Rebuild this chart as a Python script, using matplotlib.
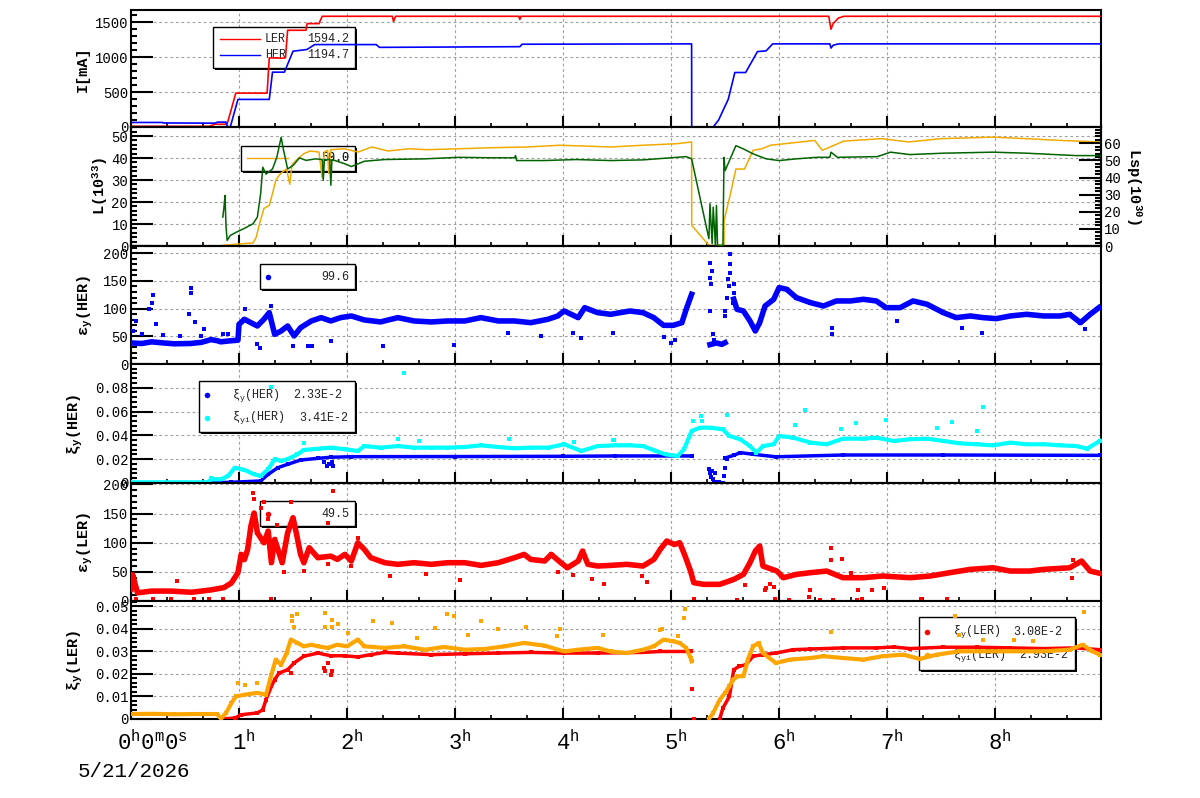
import numpy as np
import matplotlib
matplotlib.use("Agg")
import matplotlib.pyplot as plt
from matplotlib.patches import Rectangle
from matplotlib.lines import Line2D
from matplotlib.transforms import Affine2D, blended_transform_factory, offset_copy
from matplotlib.ticker import MultipleLocator, FuncFormatter

plt.rcParams["font.family"] = ["Liberation Mono", "DejaVu Sans Mono"]
plt.rcParams["mathtext.default"] = "regular"

nan = np.nan

# ---------- data (time in hours) ----------
hours = [0, 1, 2, 3, 4, 5, 6, 7, 8]
hour_labels = ["0$^{h}$0$^{m}$0$^{s}$", "1$^{h}$", "2$^{h}$", "3$^{h}$", "4$^{h}$",
               "5$^{h}$", "6$^{h}$", "7$^{h}$", "8$^{h}$"]
date_label = "5/21/2026"

# panel 1: beam currents [mA]
ler_current = [(0.0, 10), (0.72, 10), (0.78, 40), (0.89, 40), (0.97, 485), (1.26, 485),
               (1.28, 990), (1.40, 985), (1.43, 990), (1.45, 1385), (1.62, 1385), (1.63, 1480),
               (1.74, 1480), (1.77, 1585), (2.42, 1585), (2.43, 1510), (2.45, 1585), (3.59, 1585),
               (3.60, 1540), (3.61, 1585), (6.46, 1585), (6.48, 1400), (6.50, 1480), (6.55, 1560),
               (6.60, 1585), (8.98, 1585)]
her_current = [(0.0, 65), (0.29, 65), (0.30, 58), (0.78, 55), (0.80, 70), (0.88, 70), (0.89, 5),
               (0.92, 5), (0.99, 395), (1.28, 395), (1.31, 785), (1.42, 785), (1.50, 1085),
               (1.63, 1110), (1.70, 1180), (2.27, 1180), (2.30, 1140), (3.60, 1150), (3.62, 1185),
               (5.19, 1190), (5.191, 0), (5.39, 0), (5.44, 100), (5.53, 400), (5.59, 780),
               (5.69, 780), (5.80, 1080), (5.88, 1090), (5.94, 1190), (6.47, 1190), (6.48, 1130),
               (6.50, 1170), (6.55, 1190), (8.98, 1190)]

# panel 2: luminosity L (left) and specific luminosity Lsp (right)
lum = [(0.85, 0.3), (0.97, 0.8), (1.13, 1.4), (1.16, 4.1), (1.19, 10.2), (1.23, 17.0), (1.28, 18.5),
       (1.31, 23.8), (1.34, 29.8), (1.37, 32.1), (1.40, 33.6), (1.44, 35.0), (1.47, 28.0),
       (1.49, 37.0), (1.53, 39.0), (1.60, 42.0), (1.66, 43.2), (1.74, 42.7), (1.77, 31.0),
       (1.79, 42.8), (1.82, 43.5), (1.83, 33.0), (1.85, 43.8), (1.98, 44.2), (2.10, 42.7),
       (2.23, 45.0), (2.38, 43.2), (2.57, 44.2), (2.73, 43.8), (3.04, 44.2), (3.35, 44.7),
       (3.66, 45.0), (3.97, 45.8), (4.28, 45.3), (4.44, 45.0), (4.74, 45.8), (5.05, 46.5),
       (5.19, 47.3), (5.191, 9.4), (5.35, 0.3), (5.49, 0.3), (5.491, 11.7), (5.55, 23.8),
       (5.60, 35.0), (5.68, 35.0), (5.76, 43.5), (5.84, 44.2), (5.92, 45.8), (6.20, 47.3),
       (6.33, 48.0), (6.40, 43.5), (6.60, 47.7), (6.95, 48.8), (7.20, 47.3), (7.50, 48.8),
       (7.98, 49.5), (8.29, 48.8), (8.60, 48.0), (8.97, 47.3)]
lum_sp = [(0.85, 16.9), (0.86, 22.0), (0.87, 29.5), (0.88, 11.0), (0.89, 3.3), (0.92, 6.2),
          (0.98, 8.2), (1.04, 10.0), (1.13, 13.0), (1.17, 16.9), (1.20, 30.5), (1.22, 46.0),
          (1.25, 42.0), (1.31, 45.0), (1.35, 51.8), (1.39, 63.5), (1.41, 56.7), (1.45, 45.0),
          (1.50, 47.0), (1.56, 51.5), (1.62, 50.0), (1.71, 50.9), (1.77, 50.5), (1.78, 38.4),
          (1.79, 50.5), (1.84, 50.5), (1.85, 35.5), (1.86, 50.5), (1.98, 48.0), (2.04, 46.4),
          (2.16, 49.5), (2.35, 50.5), (2.72, 50.9), (3.04, 51.8), (3.35, 51.5), (3.55, 51.5),
          (3.56, 52.8), (3.57, 49.9), (3.82, 49.9), (4.12, 50.5), (4.44, 49.9), (4.74, 50.3),
          (5.14, 52.2), (5.19, 50.9), (5.24, 36.3), (5.30, 18.8), (5.35, 4.3), (5.36, 24.7),
          (5.38, 1.4), (5.39, 22.7), (5.41, 0.4), (5.42, 23.7), (5.43, 0.4), (5.48, 0.4),
          (5.49, 51.8), (5.50, 44.0), (5.56, 52.8), (5.60, 58.6), (5.67, 56.7), (5.76, 53.8),
          (5.88, 50.9), (6.00, 49.9), (6.16, 50.9), (6.35, 51.8), (6.47, 51.8), (6.48, 54.8),
          (6.54, 51.8), (6.91, 52.2), (7.03, 54.8), (7.21, 53.4), (7.52, 54.2), (7.98, 54.8),
          (8.29, 54.2), (8.75, 52.8), (8.97, 52.8)]

# panel 3: vertical emittance HER
eps_her = [(0.0, 38), (0.10, 37), (0.19, 40), (0.30, 38), (0.40, 36.5), (0.55, 37), (0.65, 39),
           (0.74, 44), (0.80, 42), (0.83, 40), (0.90, 41.5), (0.99, 43), (1.00, 71.6), (1.05, 80.7),
           (1.11, 74.6), (1.17, 68.6), (1.23, 80.7), (1.28, 92.7), (1.33, 53.6), (1.39, 59.6),
           (1.45, 68.6), (1.51, 50.6), (1.57, 65.6), (1.67, 77.7), (1.76, 83.7), (1.85, 77.7),
           (1.94, 83.7), (2.04, 86.7), (2.16, 79.5), (2.31, 76), (2.47, 83.7), (2.62, 77.7),
           (2.78, 75.9), (2.93, 77.7), (3.09, 77.7), (3.24, 83.7), (3.40, 77.7), (3.55, 77.7),
           (3.70, 74.6), (3.86, 80.7), (3.95, 86.7), (4.01, 95.7), (4.14, 83.7), (4.20, 101.7),
           (4.32, 92.7), (4.44, 89.7), (4.62, 95.7), (4.74, 92.7), (4.84, 83.7), (4.93, 69.8),
           (5.02, 69.8), (5.10, 74.6), (5.14, 98.7), (5.19, 125.8), (5.25, nan), (5.36, 35),
           (5.42, 38), (5.47, 35.5), (5.50, 38.5), (5.52, nan), (5.58, 117), (5.61, 98.7),
           (5.67, 95.7), (5.73, 77.7), (5.78, 59.6), (5.82, 74.6), (5.87, 104.7), (5.95, 116.8),
           (6.00, 137.9), (6.07, 134.9), (6.16, 119.8), (6.29, 110.8), (6.41, 104.7),
           (6.53, 113.8), (6.66, 113.8), (6.78, 116.8), (6.90, 113.8), (6.99, 101.7),
           (7.12, 101.7), (7.24, 113.8), (7.37, 107.8), (7.52, 92.7), (7.64, 83.7), (7.77, 86.7),
           (7.89, 83.7), (8.01, 81.9), (8.14, 86.7), (8.29, 89.7), (8.45, 86.7), (8.60, 86.7),
           (8.69, 89.7), (8.79, 74.6), (8.88, 89.7), (8.96, 101.7)]
eps_her_out = [(0.05, 77.7), (0.19, 111), (0.20, 124), (0.17, 98.7), (0.23, 73), (0.56, 138),
               (0.56, 129), (0.54, 90), (0.59, 76), (0.68, 62.6), (1.06, 98.7), (1.30, 105),
               (1.17, 35.5), (1.19, 29.5), (1.50, 32.5), (1.64, 32.5), (1.68, 32.5), (1.85, 41.5),
               (2.33, 32.5), (2.99, 33.7), (3.49, 56.6), (3.80, 50.6), (4.17, 47.6), (4.09, 56.6),
               (4.46, 56.6), (4.93, 48.8), (5.00, 38.5), (5.04, 42.7), (6.49, 53.6), (6.49, 65.6),
               (7.09, 77.7), (7.69, 65.6), (7.88, 56.6), (8.83, 63.8), (5.36, 181.8),
               (5.38, 168), (5.36, 154.7), (5.37, 143.9), (5.36, 95.7), (5.39, 53.6), (5.40, 44),
               (5.50, 95.7), (5.50, 86.7), (5.53, 152.9), (5.54, 140.9), (5.55, 198), (5.55, 180),
               (5.55, 165), (5.58, 143.9), (5.58, 128.8), (5.52, 119.8), (5.57, 110),
               (0.02, 60), (0.10, 55), (0.30, 52), (0.45, 50), (0.65, 50), (0.85, 55), (0.90, 55)]

# panel 4: beam-beam parameter HER
xi_her = [(0.0, 0.0003), (0.77, 0.0003), (0.93, 0.0006), (1.20, 0.0017), (1.27, 0.0073),
          (1.36, 0.0129), (1.45, 0.0157), (1.57, 0.0193), (1.73, 0.0207), (1.85, 0.0216),
          (2.04, 0.0221), (3.00, 0.0222), (4.00, 0.0224), (4.48, 0.0227), (5.19, 0.0227),
          (5.25, nan), (5.50, 0.021), (5.58, 0.0232), (5.64, 0.0255), (5.76, 0.0241),
          (5.97, 0.022), (6.59, 0.0235), (7.52, 0.0235), (8.97, 0.0232)]
xi_her_out = [(1.79, 0.018), (1.81, 0.014), (1.83, 0.016), (1.86, 0.0175), (1.87, 0.0145),
              (5.35, 0.012), (5.36, 0.008), (5.37, 0.005), (5.38, 0.010), (5.39, 0.003),
              (5.40, 0.0), (5.41, 0.008), (5.42, 0.001), (5.44, 0.001), (5.45, 0.0), (5.46, 0.0),
              (5.48, 0.0), (5.49, 0.006), (5.50, 0.013), (5.52, 0.020)]
xii_her = [(0.0, 0.0006), (0.71, 0.0006), (0.74, 0.003), (0.83, 0.003), (0.90, 0.0059),
           (0.96, 0.0129), (1.05, 0.011), (1.14, 0.0073), (1.20, 0.0059), (1.27, 0.0115),
           (1.33, 0.020), (1.39, 0.0186), (1.45, 0.020), (1.54, 0.024), (1.60, 0.0277),
           (1.73, 0.0288), (1.85, 0.0297), (1.98, 0.0283), (2.10, 0.0269), (2.16, 0.031),
           (2.31, 0.0297), (2.47, 0.031), (2.62, 0.0297), (2.78, 0.0297), (2.93, 0.0297),
           (3.09, 0.0302), (3.24, 0.0316), (3.40, 0.0302), (3.55, 0.0291), (3.70, 0.0297),
           (3.86, 0.0297), (4.01, 0.0325), (4.17, 0.0269), (4.32, 0.031), (4.48, 0.0316),
           (4.62, 0.0316), (4.74, 0.031), (4.86, 0.0269), (4.95, 0.024), (5.06, 0.0227),
           (5.12, 0.0283), (5.19, 0.0437), (5.27, 0.0465), (5.36, 0.0465), (5.48, 0.045),
           (5.54, 0.0395), (5.64, 0.0367), (5.73, 0.031), (5.79, 0.0255), (5.85, 0.031),
           (5.95, 0.0325), (6.00, 0.0395), (6.13, 0.0381), (6.29, 0.0339), (6.44, 0.0325),
           (6.59, 0.0372), (6.78, 0.0372), (6.90, 0.0381), (7.06, 0.0353), (7.21, 0.0367),
           (7.37, 0.0372), (7.52, 0.0353), (7.67, 0.0333), (7.83, 0.0325), (7.98, 0.0316),
           (8.14, 0.0339), (8.29, 0.0325), (8.45, 0.0325), (8.60, 0.0316), (8.75, 0.031),
           (8.85, 0.0288), (8.97, 0.0353)]
xii_her_out = [(2.53, 0.0927), (1.30, 0.0809), (1.60, 0.0339), (2.47, 0.0372), (2.67, 0.035),
               (3.50, 0.0367), (4.10, 0.0344), (4.46, 0.0361), (6.24, 0.0613), (7.89, 0.0636),
               (5.28, 0.0563), (5.29, 0.052), (5.20, 0.052), (5.52, 0.0568), (6.15, 0.049),
               (6.71, 0.0507), (6.99, 0.0529), (7.60, 0.0512), (7.46, 0.0465), (6.57, 0.045),
               (7.83, 0.0437), (4.47, 0.036), (0.78, 0.003), (0.74, 0.004)]

# panel 5: vertical emittance LER
eps_ler = [(0.0, 20), (0.015, 45), (0.06, 14), (0.19, 17), (0.37, 17), (0.56, 15), (0.74, 19),
           (0.86, 23), (0.93, 31), (0.99, 48.6), (1.02, 80), (1.05, 71), (1.08, 88.6),
           (1.11, 128.6), (1.14, 151), (1.17, 117), (1.23, 100), (1.27, 120), (1.30, 65.7),
           (1.33, 105.7), (1.37, 82.9), (1.40, 65.7), (1.45, 117), (1.50, 142.9), (1.53, 117),
           (1.57, 80), (1.60, 65.7), (1.65, 91.4), (1.73, 74.3), (1.85, 77), (1.91, 71.4),
           (1.98, 80), (2.04, 68.6), (2.10, 100), (2.16, 88.6), (2.22, 74.3), (2.35, 65.7),
           (2.47, 62.9), (2.62, 65.7), (2.78, 62.9), (2.93, 65.7), (3.09, 65.7), (3.24, 61.1),
           (3.40, 65.7), (3.55, 74.3), (3.64, 80), (3.70, 71.4), (3.83, 68.6), (3.89, 80),
           (3.98, 65.7), (4.04, 57), (4.14, 68.6), (4.18, 85.7), (4.23, 62.9), (4.32, 60),
           (4.44, 61.1), (4.59, 62.9), (4.74, 60), (4.84, 71.4), (4.90, 88.6), (4.96, 102.9),
           (5.03, 97), (5.08, 100), (5.13, 77), (5.18, 51.4), (5.21, 31.4), (5.30, 28.6),
           (5.45, 28.6), (5.58, 37), (5.67, 45.7), (5.73, 65.7), (5.78, 85.7), (5.82, 94.3),
           (5.85, 60), (5.98, 51.4), (6.04, 40), (6.16, 45.7), (6.29, 48.6), (6.44, 51.4),
           (6.59, 40), (6.78, 40), (6.96, 42.9), (7.21, 40), (7.40, 42.9), (7.58, 48.6),
           (7.77, 54.3), (7.98, 57), (8.14, 51.4), (8.32, 51.4), (8.45, 54.3), (8.69, 57),
           (8.80, 68.6), (8.88, 51.4), (8.97, 47.4)]
eps_ler_out = [(1.87, 188.6), (1.13, 184.6), (1.14, 174.3), (1.23, 169.7), (1.48, 170),
               (1.82, 134.3), (2.10, 108.6), (1.30, 2.9), (3.05, 36), (4.38, 29.7), (4.27, 37),
               (4.09, 44), (3.95, 49.7), (2.73, 45.7), (2.40, 42.9), (0.43, 34.3), (2.04, 60),
               (1.42, 49.7), (1.60, 51.4), (1.82, 62.9), (6.48, 91.4), (6.48, 71), (6.58, 72.6),
               (6.29, 18.9), (6.73, 18.9), (6.86, 18.9), (6.97, 22.9), (5.88, 22.9), (5.92, 28.6),
               (5.95, 24.6), (5.21, 2.9), (5.61, 1.7), (5.96, 2.9), (6.09, 1.7), (6.38, 1.7),
               (6.50, 1.7), (6.72, 1.7), (6.77, 2.9), (7.31, 4), (7.55, 4), (4.73, 42.9),
               (4.78, 32.6), (5.68, 26.9), (5.87, 18.9), (6.28, 7.4), (6.67, 48.6), (8.72, 70.3),
               (8.71, 40), (1.35, 130), (1.27, 140), (1.20, 160), (0.05, 4), (0.20, 4),
               (0.37, 4), (0.58, 4), (0.72, 4), (0.85, 4)]

# panel 6: beam-beam parameter LER
xi_ler = [(0.83, 0.0), (0.96, 0.0004), (1.02, 0.0019), (1.17, 0.0027), (1.22, 0.0041),
          (1.25, 0.0086), (1.30, 0.0145), (1.33, 0.0175), (1.37, 0.0204), (1.45, 0.0219),
          (1.51, 0.0249), (1.60, 0.0279), (1.73, 0.0293), (1.85, 0.0281), (1.98, 0.0281),
          (2.10, 0.0276), (2.22, 0.0286), (2.35, 0.0296), (2.47, 0.0293), (2.78, 0.0286),
          (3.09, 0.029), (3.40, 0.0293), (3.70, 0.0296), (4.01, 0.0293), (4.32, 0.0293),
          (4.74, 0.0296), (4.90, 0.030), (5.18, 0.030), (5.25, nan), (5.45, 0.0), (5.48, 0.0049),
          (5.54, 0.010), (5.58, 0.0219), (5.63, 0.0234), (5.69, 0.0241), (5.76, 0.0279),
          (5.85, 0.0286), (5.97, 0.0293), (6.13, 0.0308), (6.29, 0.0311), (6.59, 0.0316),
          (6.90, 0.0316), (7.06, 0.032), (7.21, 0.0313), (7.52, 0.0319), (7.83, 0.0319),
          (8.14, 0.0316), (8.45, 0.0313), (8.75, 0.0316), (8.97, 0.0308)]
xi_ler_out = [(1.79, 0.0227), (1.80, 0.0212), (1.85, 0.0197), (1.86, 0.0212), (1.82, 0.025),
              (1.48, 0.0204), (5.19, 0.0133), (5.21, 0.0), (5.45, 0.0)]
xii_ler = [(0.0, 0.0022), (0.2, 0.0023), (0.4, 0.0021), (0.6, 0.0022), (0.8, 0.0022),
           (0.83, 0.0), (0.88, 0.0027), (0.93, 0.0071), (0.97, 0.010), (1.05, 0.0108),
           (1.17, 0.0116), (1.25, 0.0108), (1.30, 0.0197), (1.34, 0.0264), (1.39, 0.0241),
           (1.44, 0.0293), (1.48, 0.0353), (1.54, 0.0338), (1.60, 0.0323), (1.67, 0.033),
           (1.73, 0.0323), (1.82, 0.0316), (1.91, 0.033), (2.00, 0.0323), (2.10, 0.0353),
           (2.16, 0.0323), (2.35, 0.0316), (2.53, 0.0323), (2.72, 0.0308), (2.90, 0.032),
           (3.09, 0.0308), (3.27, 0.0311), (3.46, 0.0323), (3.64, 0.0338), (3.83, 0.0326),
           (4.01, 0.030), (4.14, 0.0308), (4.32, 0.0316), (4.44, 0.030), (4.59, 0.0293),
           (4.74, 0.0308), (4.84, 0.0323), (4.93, 0.0353), (5.02, 0.0345), (5.08, 0.0338),
           (5.14, 0.0316), (5.18, 0.0271), (5.19, 0.0256), (5.25, nan), (5.35, 0.0),
           (5.39, 0.0027), (5.45, 0.0086), (5.50, 0.0116), (5.54, 0.0145), (5.57, 0.0175),
           (5.62, 0.019), (5.67, 0.019), (5.71, 0.0264), (5.76, 0.0323), (5.81, 0.0338),
           (5.85, 0.0293), (5.97, 0.0249), (6.10, 0.0264), (6.29, 0.0271), (6.41, 0.0279),
           (6.59, 0.0271), (6.78, 0.0264), (6.96, 0.0279), (7.15, 0.0286), (7.30, 0.0267),
           (7.46, 0.0286), (7.67, 0.0301), (7.83, 0.0301), (8.14, 0.0301), (8.45, 0.0301),
           (8.69, 0.0308), (8.81, 0.033), (8.90, 0.0301), (8.97, 0.0286)]
xii_ler_out = [(1.49, 0.0459), (1.54, 0.0468), (1.49, 0.0434), (1.51, 0.041), (1.80, 0.0471),
               (1.86, 0.0439), (1.86, 0.041), (1.80, 0.041), (1.92, 0.042), (2.01, 0.0384),
               (2.24, 0.0434), (2.42, 0.0427), (2.93, 0.0467), (2.99, 0.0456), (3.24, 0.0437),
               (2.81, 0.0404), (3.40, 0.040), (3.66, 0.041), (4.37, 0.0375), (3.97, 0.040),
               (3.94, 0.037), (0.99, 0.016), (1.06, 0.0153), (1.17, 0.016), (2.65, 0.036),
               (3.12, 0.0375), (5.13, 0.0489), (5.12, 0.0449), (4.90, 0.0394), (4.92, 0.0401),
               (5.06, 0.0367), (6.48, 0.0385), (7.63, 0.0459), (8.82, 0.0476), (7.89, 0.0353),
               (7.67, 0.0375), (8.17, 0.0353), (8.35, 0.0345)]

# ---------- figure ----------
W, H = 1200, 798
PIX = Affine2D().scale(1, -1).translate(0, H)   # image pixel coords -> display

RED, BLUE, CYAN = "#ff0000", "#0000ff", "#00ffff"
ORANGE, GOLD, GREEN = "#ffa500", "#f0aa00", "#006400"

fig = plt.figure(figsize=(12, 7.98), dpi=100)
edges = [10, 127, 246, 364, 483, 601, 719]
axes = []
for k in range(6):
    top, bot = edges[k], edges[k + 1]
    axes.append(fig.add_axes([131 / W, 1 - bot / H, 970 / W, (bot - top) / H]))

fmt = FuncFormatter(lambda v, p: "0" if abs(v) < 1e-12 else f"{v:g}")


def style(ax, ylim, major, minor):
    ax.set_xlim(0, 8.98)
    ax.set_ylim(*ylim)
    ax.xaxis.set_major_locator(MultipleLocator(1))
    ax.xaxis.set_minor_locator(MultipleLocator(1 / 3))
    ax.yaxis.set_major_locator(MultipleLocator(major))
    ax.yaxis.set_minor_locator(MultipleLocator(minor))
    ax.yaxis.set_major_formatter(fmt)
    ax.tick_params(axis="x", which="major", direction="in", length=8, width=1.5, labelbottom=False)
    ax.tick_params(axis="x", which="minor", direction="in", length=3, width=1.2)
    ax.tick_params(axis="y", which="major", direction="in", length=16, width=1.5, labelsize=10, pad=2)
    ax.tick_params(axis="y", which="minor", direction="in", length=4.5, width=1.5)
    for s in ax.spines.values():
        s.set_linewidth(1.5)
    ax.grid(True, which="major", color="#a0a0a0", linestyle=(0, (2.5, 2.5)), linewidth=0.8)
    ax.set_axisbelow(True)


def band(ax, pts, color, lw, ms):
    a = np.array(pts, dtype=float)
    ax.plot(a[:, 0], a[:, 1], color=color, lw=lw, marker="s", ms=ms, mew=0, zorder=3)


def dots(ax, pts, color, ms=2.6):
    a = np.array(pts, dtype=float)
    ax.plot(a[:, 0], a[:, 1], "s", color=color, ms=ms, mew=0, zorder=3)


def curve(ax, pts, color, lw=1.2):
    a = np.array(pts, dtype=float)
    ax.plot(a[:, 0], a[:, 1], color=color, lw=lw, zorder=3)


def legend_box(ax, x0, y0, x1, y1):
    ax.add_patch(Rectangle((x0 + 2, y0 + 2), x1 - x0, y1 - y0, transform=PIX,
                           facecolor="black", edgecolor="none", zorder=1))
    ax.add_patch(Rectangle((x0, y0), x1 - x0, y1 - y0, transform=PIX,
                           facecolor="white", edgecolor="black", lw=1.0, zorder=1.1))


def legend_text(ax, x, y, s, ha="left"):
    ax.text(x, y, s, transform=PIX, ha=ha, va="center", fontsize=8.5, color="#222222", zorder=1.2)


def legend_line(ax, x0, x1, y, color):
    ax.add_line(Line2D([x0, x1], [y, y], transform=PIX, color=color, lw=1.0, zorder=1.2))


def legend_dot(ax, x, y, color):
    ax.add_line(Line2D([x], [y], transform=PIX, marker="o", ms=4, mew=0, color=color,
                       linestyle="none", zorder=1.2))


# ---------- panel 1: currents ----------
ax = axes[0]
legend_box(ax, 213, 27, 355, 68)
legend_line(ax, 220, 260, 39, RED)
legend_text(ax, 265, 39, "LER")
legend_text(ax, 349, 39, "1594.2", ha="right")
legend_line(ax, 220, 260, 55, BLUE)
legend_text(ax, 265, 55, "HER")
legend_text(ax, 349, 55, "1194.7", ha="right")
curve(ax, ler_current, RED)
curve(ax, her_current, BLUE)
style(ax, (0, 1675), 500, 100)

# ---------- panel 2: luminosity ----------
ax = axes[1]
legend_box(ax, 241, 146, 355, 171)
legend_line(ax, 247, 288, 158, GOLD)
legend_text(ax, 349, 158, "58.0", ha="right")
legend_text(ax, 349, 158, "50.0", ha="right")
curve(ax, lum, GOLD, lw=1.1)
style(ax, (0, 54.1), 10, 2)
ax2 = ax.twinx()
curve(ax2, lum_sp, GREEN, lw=1.1)
ax2.set_xlim(0, 8.98)
ax2.set_ylim(0, 69.5)
ax2.yaxis.set_major_locator(MultipleLocator(10))
ax2.yaxis.set_minor_locator(MultipleLocator(2))
ax2.yaxis.set_major_formatter(fmt)
ax2.tick_params(axis="y", which="major", direction="in", length=16, width=1.5, labelsize=10, pad=2)
ax2.tick_params(axis="y", which="minor", direction="in", length=4.5, width=1.5)
for s in ax2.spines.values():
    s.set_linewidth(1.5)

# ---------- panel 3: emittance HER ----------
ax = axes[2]
legend_box(ax, 260, 264, 355, 289)
legend_dot(ax, 268, 277, BLUE)
legend_text(ax, 349, 277, "99.6", ha="right")
band(ax, eps_her, BLUE, 4.0, 3.5)
dots(ax, eps_her_out, BLUE)
style(ax, (0, 213), 50, 10)

# ---------- panel 4: xi HER ----------
ax = axes[3]
legend_box(ax, 199, 381, 355, 432)
legend_dot(ax, 207, 395, BLUE)
legend_text(ax, 232, 395, r"ξ$_{y}$(HER)")
legend_text(ax, 342, 395, "2.33E-2", ha="right")
legend_dot(ax, 207, 418, CYAN)
legend_text(ax, 232, 418, r"ξ$_{yi}$(HER)")
legend_text(ax, 348, 418, "3.41E-2", ha="right")
band(ax, xi_her, BLUE, 2.5, 3)
dots(ax, xi_her_out, BLUE)
band(ax, xii_her, CYAN, 3.0, 3.5)
dots(ax, xii_her_out, CYAN)
style(ax, (0, 0.0999), 0.02, 0.004)

# ---------- panel 5: emittance LER ----------
ax = axes[4]
legend_box(ax, 260, 501, 355, 526)
legend_dot(ax, 268, 514, RED)
legend_text(ax, 349, 514, "49.5", ha="right")
band(ax, eps_ler, RED, 4.0, 3.5)
dots(ax, eps_ler_out, RED)
style(ax, (0, 202.5), 50, 10)

# ---------- panel 6: xi LER ----------
ax = axes[5]
legend_box(ax, 919, 617, 1075, 670)
legend_dot(ax, 927, 632, RED)
legend_text(ax, 953, 632, r"ξ$_{y}$(LER)")
legend_text(ax, 1062, 632, "3.08E-2", ha="right")
legend_dot(ax, 927, 655, ORANGE)
legend_text(ax, 953, 655, r"ξ$_{yi}$(LER)")
legend_text(ax, 1068, 655, "2.93E-2", ha="right")
band(ax, xi_ler, RED, 2.5, 3)
dots(ax, xi_ler_out, RED)
band(ax, xii_ler, ORANGE, 3.0, 3.5)
dots(ax, xii_ler_out, ORANGE)
style(ax, (0, 0.05244), 0.01, 0.002)

# time labels under the last panel
tr = blended_transform_factory(axes[5].transData, PIX)
for h, lab in zip(hours, hour_labels):
    dx = -14 if h == 0 else -7
    fig.text(h, 750, lab, transform=offset_copy(tr, fig=fig, x=dx, y=0, units="dots"),
             ha="left", va="baseline", fontsize=16)
fig.text(78, 777, date_label, transform=PIX, ha="left", va="baseline", fontsize=15)

# axis titles
ylabels = [(83, 69, "I[mA]", 90), (100, 186, "L(10$^{33}$)", 90),
           (1134, 186, "Lsp(10$^{30}$)", 270), (85, 305, "ε$_{y}$(HER)", 90),
           (75, 424, "ξ$_{y}$(HER)", 90), (85, 542, "ε$_{y}$(LER)", 90),
           (75, 660, "ξ$_{y}$(LER)", 90)]
for x, y, s, rot in ylabels:
    fig.text(x, y, s, transform=PIX, rotation=rot, ha="center", va="center",
             fontsize=11, fontweight="bold")

fig.savefig("out.png", dpi=100)
